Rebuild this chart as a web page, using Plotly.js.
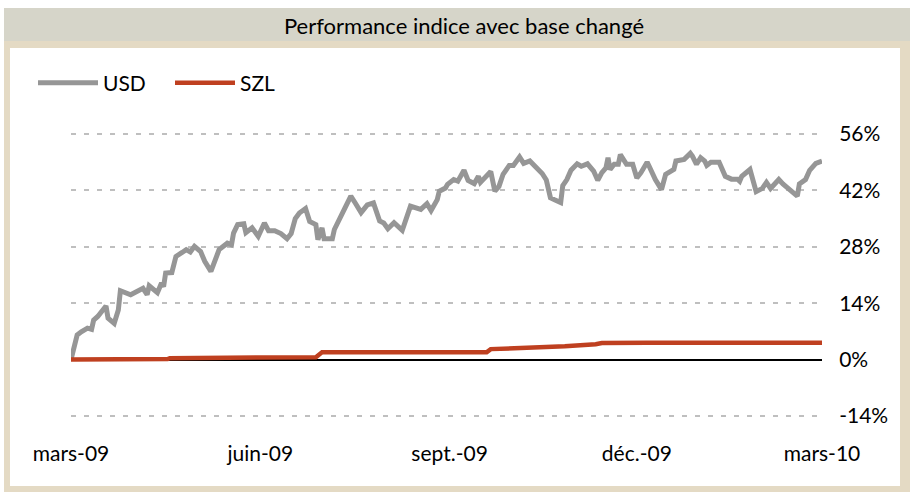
<!DOCTYPE html>
<html>
<head>
<meta charset="utf-8">
<script src="https://cdn.plot.ly/plotly-3.0.1.min.js"></script>
<style>html,body{margin:0;padding:0;background:#fff;}#chart{width:910px;height:493px;}</style>
</head>
<body>
<div id="chart"></div>
<script>
const chartTitle = "Performance indice avec base changé";
const seriesNames = ["USD", "SZL"];
const tickDates = ["2009-03-01", "2009-06-01", "2009-09-01", "2009-12-01", "2010-03-01"];
const tickLabels = ["mars-09", "juin-09", "sept.-09", "déc.-09", "mars-10"];
const yTicks = [-14, 0, 14, 28, 42, 56];
const yTickLabels = ["-14%", "0%", "14%", "28%", "42%", "56%"];

const usdDates = [
 "2009-03-01","2009-03-04","2009-03-06","2009-03-09","2009-03-11","2009-03-12","2009-03-14","2009-03-16","2009-03-18","2009-03-19",
 "2009-03-22","2009-03-24","2009-03-25","2009-03-30","2009-04-02","2009-04-05","2009-04-07","2009-04-08","2009-04-12","2009-04-14",
 "2009-04-15","2009-04-16","2009-04-19","2009-04-21","2009-04-24","2009-04-26","2009-04-28","2009-04-30","2009-05-03","2009-05-05",
 "2009-05-08","2009-05-10","2009-05-12","2009-05-16","2009-05-18","2009-05-19","2009-05-21","2009-05-24","2009-05-25","2009-05-28",
 "2009-05-31","2009-06-03","2009-06-05","2009-06-08","2009-06-11","2009-06-14","2009-06-16","2009-06-18","2009-06-20","2009-06-23",
 "2009-06-25","2009-06-28","2009-06-29","2009-07-01","2009-07-02","2009-07-06","2009-07-07","2009-07-12","2009-07-15","2009-07-17",
 "2009-07-20","2009-07-23","2009-07-26","2009-07-29","2009-07-31","2009-08-02","2009-08-05","2009-08-09","2009-08-13","2009-08-18",
 "2009-08-21","2009-08-23","2009-08-26","2009-08-27","2009-08-30","2009-08-31","2009-09-03","2009-09-05","2009-09-08","2009-09-10",
 "2009-09-13","2009-09-15","2009-09-16","2009-09-21","2009-09-23","2009-09-25","2009-09-27","2009-09-30","2009-10-02","2009-10-05",
 "2009-10-07","2009-10-10","2009-10-13","2009-10-16","2009-10-18","2009-10-19","2009-10-20","2009-10-22","2009-10-25","2009-10-26",
 "2009-10-28","2009-10-30","2009-11-02","2009-11-04","2009-11-07","2009-11-10","2009-11-12","2009-11-14","2009-11-16","2009-11-17",
 "2009-11-18","2009-11-20","2009-11-22","2009-11-23","2009-11-24","2009-11-26","2009-11-29","2009-12-01","2009-12-03","2009-12-06",
 "2009-12-07","2009-12-10","2009-12-13","2009-12-15","2009-12-19","2009-12-20","2009-12-24","2009-12-27","2009-12-28","2009-12-30",
 "2010-01-01","2010-01-03","2010-01-04","2010-01-06","2010-01-10","2010-01-13","2010-01-16","2010-01-19","2010-01-20","2010-01-21",
 "2010-01-25","2010-01-28","2010-01-31","2010-02-02","2010-02-04","2010-02-08","2010-02-10","2010-02-14","2010-02-17","2010-02-18",
 "2010-02-21","2010-02-23","2010-02-26","2010-03-01"
];
const usdValues = [
 0.0, 6.1, 6.9, 7.8, 7.5, 9.8, 10.7, 11.9, 13.3, 10.3,
 9.0, 12.3, 17.1, 16.1, 16.9, 17.7, 16.1, 18.3, 16.6, 19.0,
 18.1, 21.5, 21.6, 25.6, 26.6, 27.3, 26.7, 28.1, 26.8, 24.4,
 21.9, 24.8, 27.3, 28.9, 28.5, 31.4, 33.5, 33.7, 31.5, 32.7,
 30.6, 33.9, 32.0, 32.0, 31.3, 30.0, 31.3, 35.0, 36.4, 37.5,
 34.3, 33.5, 29.8, 32.7, 30.0, 30.0, 32.3, 37.5, 40.6, 39.0,
 36.5, 38.4, 38.9, 34.4, 33.9, 32.5, 34.0, 32.1, 38.1, 37.3,
 38.7, 37.0, 39.7, 41.8, 42.6, 43.5, 44.7, 44.3, 47.0, 44.5,
 43.7, 45.5, 44.0, 46.7, 41.8, 43.0, 46.0, 48.2, 48.2, 50.3,
 48.7, 49.3, 47.8, 46.2, 44.6, 41.7, 40.2, 39.7, 39.0, 43.2,
 44.7, 47.0, 48.6, 48.0, 48.6, 46.8, 44.5, 46.4, 47.6, 50.1,
 47.2, 48.5, 48.5, 50.9, 50.1, 48.5, 48.5, 45.1, 46.4, 49.0,
 48.0, 44.7, 42.2, 46.0, 47.2, 49.3, 49.7, 51.2, 50.5, 48.5,
 50.1, 49.3, 48.2, 49.0, 49.0, 45.5, 44.8, 44.8, 44.3, 45.5,
 47.2, 41.7, 42.5, 44.0, 42.5, 44.7, 43.6, 41.8, 40.6, 43.6,
 44.7, 47.0, 48.7, 49.3
];

const szlDates = [
 "2009-03-01","2009-03-15","2009-03-16","2009-04-17","2009-04-18","2009-05-18","2009-05-19","2009-06-28","2009-07-01",
 "2009-09-19","2009-09-21","2009-09-29","2009-10-17","2009-10-27","2009-11-11","2009-11-14","2009-12-06","2010-03-01"
];
const szlValues = [
 0.0, 0.0, 0.15, 0.15, 0.35, 0.35, 0.55, 0.6, 1.8,
 1.8, 2.6, 2.7, 3.2, 3.3, 3.8, 4.1, 4.15, 4.2
];

// ---- layout geometry (pixels) ----
const W = 910, H = 493;
const M = {l: 71, r: 88, t: 130, b: 73};
const PW = W - M.l - M.r, PH = H - M.t - M.b;
const px = x => (x - M.l) / PW;
const py = y => (H - M.b - y) / PH;
const FONT = "Lato, 'Open Sans', sans-serif";

const traces = [
  {x: usdDates, y: usdValues, name: seriesNames[0], type: "scatter", mode: "lines",
   line: {color: "#969696", width: 5}},
  {x: szlDates, y: szlValues, name: seriesNames[1], type: "scatter", mode: "lines",
   line: {color: "#BF4020", width: 4.5}}
];

const layout = {
  width: W, height: H,
  margin: M,
  paper_bgcolor: "#ffffff",
  plot_bgcolor: "rgba(0,0,0,0)",
  font: {family: FONT, size: 21, color: "#000"},
  title: {text: chartTitle, x: 464 / W, xref: "container", xanchor: "center",
          y: 1 - 26 / H, yref: "container", yanchor: "middle",
          font: {family: FONT, size: 22, color: "#000"}},
  showlegend: true,
  legend: {orientation: "h", x: px(33), xanchor: "left", y: py(83), yanchor: "middle",
           font: {family: FONT, size: 21}, itemwidth: 60, entrywidth: 62,
           bgcolor: "rgba(0,0,0,0)"},
  xaxis: {type: "date", range: ["2009-03-01", "2010-03-01"],
          tickvals: tickDates, ticktext: tickLabels,
          showgrid: false, zeroline: false, showline: false,
          ticks: "outside", ticklen: 15, tickcolor: "rgba(0,0,0,0)",
          tickfont: {family: FONT, size: 21}},
  yaxis: {side: "right", range: [-15, 57], tickvals: yTicks, ticktext: yTickLabels,
          showgrid: true, gridcolor: "#BFBFBF", gridwidth: 2, griddash: "5px,8px",
          zeroline: true, zerolinecolor: "#000", zerolinewidth: 2,
          showline: false, ticks: "outside", ticklen: 12, tickcolor: "rgba(0,0,0,0)",
          tickfont: {family: FONT, size: 21}},
  shapes: [
    {type: "rect", xref: "paper", yref: "paper", layer: "below",
     x0: px(4), x1: px(910), y0: py(492), y1: py(8), fillcolor: "#E4DAC4", line: {width: 0}},
    {type: "rect", xref: "paper", yref: "paper", layer: "below",
     x0: px(4), x1: px(910), y0: py(41), y1: py(8), fillcolor: "#D6D5C9", line: {width: 0}},
    {type: "rect", xref: "paper", yref: "paper", layer: "below",
     x0: px(10), x1: px(900), y0: py(486), y1: py(48), fillcolor: "#FFFFFF", line: {width: 0}}
  ]
};

Plotly.newPlot("chart", traces, layout, {displayModeBar: false, staticPlot: true});
</script>
</body>
</html>
